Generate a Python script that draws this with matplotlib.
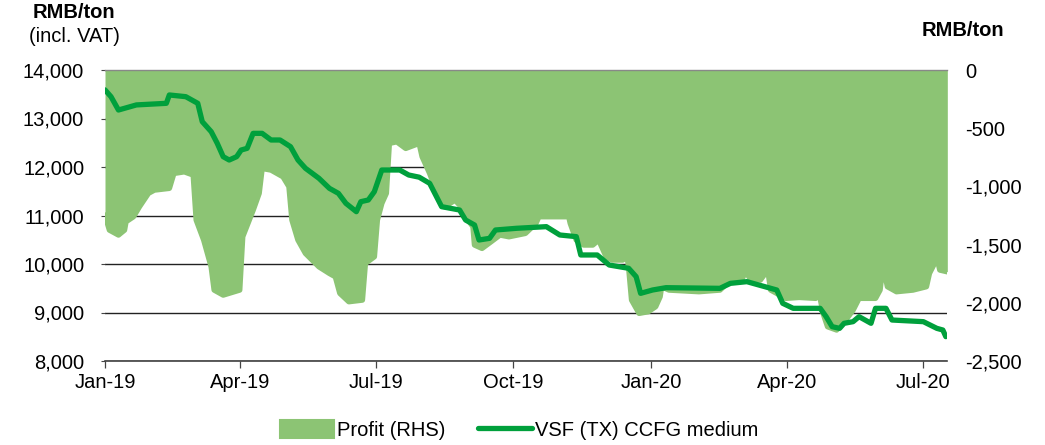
import matplotlib
matplotlib.use("Agg")
import matplotlib.pyplot as plt
import matplotlib.dates as mdates
from matplotlib.patches import Patch
from matplotlib.lines import Line2D
import pandas as pd

plt.rcParams['font.family'] = ['Liberation Sans', 'DejaVu Sans']

# ---- data ----
price_dates = [
    "2019-01-01", "2019-01-05", "2019-01-10", "2019-01-22", "2019-02-11", "2019-02-13",
    "2019-02-24", "2019-03-04", "2019-03-07", "2019-03-13", "2019-03-17", "2019-03-21",
    "2019-03-25", "2019-03-30", "2019-04-02", "2019-04-06", "2019-04-10", "2019-04-16",
    "2019-04-22", "2019-04-28", "2019-05-05", "2019-05-10", "2019-05-15", "2019-05-24",
    "2019-05-31", "2019-06-06", "2019-06-11", "2019-06-18", "2019-06-21", "2019-06-26",
    "2019-06-30", "2019-07-05", "2019-07-17", "2019-07-23", "2019-07-30", "2019-08-06",
    "2019-08-14", "2019-08-26", "2019-08-30", "2019-09-05", "2019-09-08", "2019-09-15",
    "2019-09-19", "2019-10-03", "2019-10-23", "2019-11-01", "2019-11-12", "2019-11-15",
    "2019-11-26", "2019-12-04", "2019-12-17", "2019-12-22", "2019-12-25", "2020-01-02",
    "2020-01-11", "2020-02-16", "2020-02-23", "2020-03-05", "2020-03-13", "2020-03-25",
    "2020-03-29", "2020-04-05", "2020-04-23", "2020-04-27", "2020-05-01", "2020-05-06",
    "2020-05-09", "2020-05-15", "2020-05-19", "2020-05-27", "2020-05-30", "2020-06-06",
    "2020-06-10", "2020-07-01", "2020-07-10", "2020-07-14", "2020-07-16",
]
price_values = [
    13590, 13450, 13175, 13280, 13313, 13485,
    13450, 13313, 12935, 12728, 12490, 12213,
    12144, 12213, 12350, 12385, 12694, 12694,
    12557, 12557, 12419, 12144, 11973, 11767,
    11560, 11457, 11251, 11079, 11285, 11320,
    11491, 11938, 11938, 11835, 11790, 11663,
    11182, 11113, 10907, 10804, 10495, 10529,
    10701, 10736, 10770, 10598, 10564, 10186,
    10186, 9979, 9911, 9739, 9395, 9464,
    9512, 9498, 9601, 9636, 9567, 9464,
    9189, 9086, 9086, 8914, 8708, 8673,
    8777, 8811, 8914, 8777, 9086, 9086,
    8845, 8811, 8673, 8639, 8502,
]

profit_dates = [
    "2019-01-01", "2019-01-04", "2019-01-10", "2019-01-14", "2019-01-15", "2019-01-20",
    "2019-01-24", "2019-01-30", "2019-02-03", "2019-02-13", "2019-02-16", "2019-02-23",
    "2019-03-01", "2019-03-03", "2019-03-08", "2019-03-13", "2019-03-15", "2019-03-21",
    "2019-04-01", "2019-04-03", "2019-04-10", "2019-04-14", "2019-04-16", "2019-04-22",
    "2019-04-30", "2019-05-04", "2019-05-06", "2019-05-10", "2019-05-15", "2019-05-24",
    "2019-05-31", "2019-06-04", "2019-06-07", "2019-06-13", "2019-06-22", "2019-06-24",
    "2019-06-30", "2019-07-02", "2019-07-05", "2019-07-08", "2019-07-10", "2019-07-15",
    "2019-07-21", "2019-07-27", "2019-07-30", "2019-08-01", "2019-08-06", "2019-08-12",
    "2019-08-16", "2019-08-23", "2019-08-27", "2019-08-30", "2019-09-04", "2019-09-05",
    "2019-09-10", "2019-09-16", "2019-09-22", "2019-09-28", "2019-10-09", "2019-10-16",
    "2019-10-18", "2019-11-07", "2019-11-08", "2019-11-12", "2019-11-17", "2019-11-23",
    "2019-11-27", "2019-12-02", "2019-12-06", "2019-12-13", "2019-12-16", "2019-12-17",
    "2019-12-19", "2019-12-24", "2019-12-30", "2020-01-04", "2020-01-07", "2020-01-08",
    "2020-01-13", "2020-02-02", "2020-02-16", "2020-02-22", "2020-03-02", "2020-03-04",
    "2020-03-08", "2020-03-14", "2020-03-19", "2020-03-21", "2020-03-31", "2020-04-09",
    "2020-04-20", "2020-04-22", "2020-04-25", "2020-04-28", "2020-05-04", "2020-05-10",
    "2020-05-15", "2020-05-19", "2020-05-30", "2020-06-02", "2020-06-04", "2020-06-07",
    "2020-06-13", "2020-06-24", "2020-07-03", "2020-07-05", "2020-07-09", "2020-07-11",
    "2020-07-12", "2020-07-17",
]
profit_values = [
    -1246, -1375, -1417, -1375, -1303, -1260,
    -1174, -1059, -1031, -1016, -888, -874,
    -902, -1289, -1460, -1690, -1890, -1933,
    -1890, -1432, -1203, -1059, -845, -859,
    -917, -1002, -1289, -1460, -1575, -1690,
    -1747, -1776, -1918, -1990, -1976, -1661,
    -1604, -1289, -1145, -1059, -630, -616,
    -673, -644, -630, -744, -887, -1088,
    -1174, -1117, -1174, -1260, -1346, -1503,
    -1532, -1475, -1417, -1432, -1403, -1317,
    -1260, -1260, -1317, -1460, -1503, -1503,
    -1460, -1604, -1632, -1632, -1604, -1690,
    -1976, -2090, -2076, -2033, -1947, -1861,
    -1890, -1904, -1890, -1818, -1790, -1733,
    -1804, -1804, -1718, -1890, -1961, -1953,
    -1961, -1890, -2090, -2205, -2233, -2148,
    -2062, -1961, -1961, -1890, -1675, -1861,
    -1904, -1890, -1861, -1747, -1646, -1661,
    -1718, -1733,
]

left_ticks = [8000, 9000, 10000, 11000, 12000, 13000, 14000]
right_ticks = [-2500, -2000, -1500, -1000, -500, 0]
x_ticks = ["2019-01-01", "2019-04-01", "2019-07-01", "2019-10-01",
           "2020-01-01", "2020-04-01", "2020-07-01"]

series_price = "VSF (TX) CCFG medium"
series_profit = "Profit (RHS)"

# ---- style ----
AREA = "#8CC474"
LINE = "#00A03C"
FS = 14.5

pdates = pd.to_datetime(price_dates)
fdates = pd.to_datetime(profit_dates)
xt = pd.to_datetime(x_ticks)

fig = plt.figure(figsize=(10.45, 4.45), dpi=100)
ax = fig.add_axes([105 / 1045, 1 - 361 / 445, (946.7 - 105) / 1045, (361 - 70) / 445])
ax2 = ax.twinx()

xmin = pd.Timestamp("2019-01-01")
xmax = pd.Timestamp("2020-07-16 14:00")

# left axis (price) - gridlines
ax.set_ylim(8000, 14000)
ax.set_yticks(left_ticks)
ax.set_yticklabels([f"{v:,}" for v in left_ticks], fontsize=FS)
ax.yaxis.grid(True, color="#222222", linewidth=1.0)
ax.set_axisbelow(True)
ax.tick_params(axis="y", length=3, width=0.8, pad=12, color="#444444")
ax.set_xlim(xmin, xmax)
ax.set_xticks(xt)
ax.xaxis.set_major_formatter(mdates.DateFormatter("%b-%y"))
ax.tick_params(axis="x", length=5, width=0.9, pad=4, labelsize=FS, color="#444444")
for s in ["top", "left", "right"]:
    ax.spines[s].set_visible(False)
ax.spines["bottom"].set_color("#404040")
ax.spines["bottom"].set_linewidth(1.2)

# right axis (profit area) drawn above gridlines
ax2.set_ylim(-2500, 0)
ax2.set_yticks(right_ticks)
ax2.set_yticklabels([f"{v:,}" for v in right_ticks], fontsize=FS)
ax2.tick_params(axis="y", length=0, pad=13)
ax2.fill_between(fdates, profit_values, 0, color=AREA, linewidth=0, zorder=1)
ax2.plot(fdates, profit_values, color=AREA, linewidth=4.0, solid_joinstyle="round",
         solid_capstyle="round", zorder=1)
ax2.plot(pdates, price_values, color=LINE, linewidth=3.8, solid_joinstyle="round",
         solid_capstyle="round", transform=ax.transData, zorder=3)
ax2.set_xlim(xmin, xmax)
for s in ["left", "right", "bottom"]:
    ax2.spines[s].set_visible(False)
ax2.spines["top"].set_color("#888888")
ax2.spines["top"].set_linewidth(1.0)
ax2.spines["top"].set_zorder(4)

# titles
fig.text(74 / 1045, 1 - 13 / 445, "RMB/ton", fontsize=FS, fontweight="bold",
         ha="center", va="center")
fig.text(74 / 1045, 1 - 36 / 445, "(incl. VAT)", fontsize=FS, ha="center", va="center")
fig.text(963 / 1045, 1 - 30 / 445, "RMB/ton", fontsize=FS, fontweight="bold",
         ha="center", va="center")

handles = [Patch(facecolor=AREA, edgecolor=AREA, linewidth=1.5, joinstyle="round",
                 label=series_profit),
           Line2D([0], [0], color=LINE, linewidth=3.8, solid_capstyle="round",
                  label=series_price)]
fig.legend(handles=handles, loc="center", bbox_to_anchor=(519 / 1045, 1 - 430 / 445),
           ncol=2, frameon=False, fontsize=FS, handlelength=2.7, handleheight=1.0,
           handletextpad=0.15, columnspacing=1.6, borderaxespad=0)

fig.savefig("out.png", dpi=100)
